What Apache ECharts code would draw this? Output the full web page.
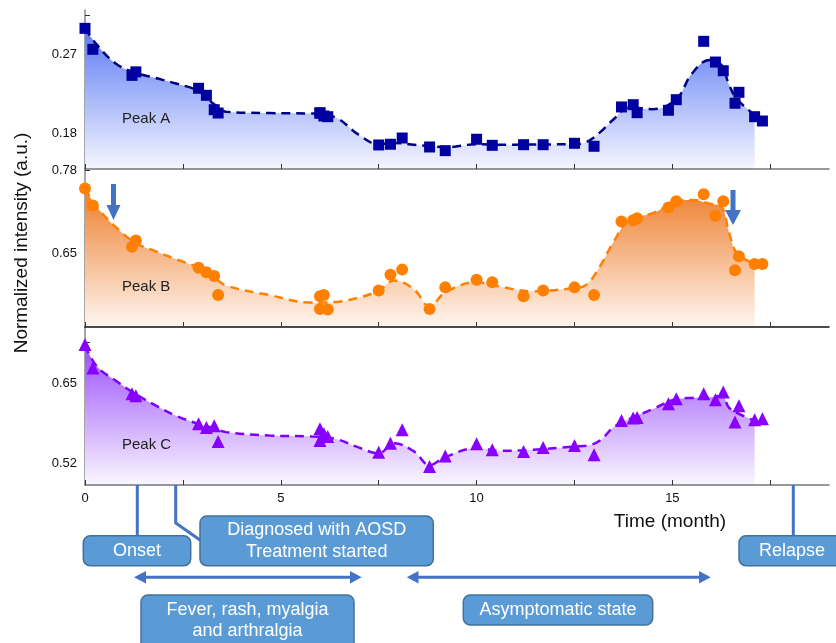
<!DOCTYPE html>
<html>
<head>
<meta charset="utf-8">
<script src="https://cdn.jsdelivr.net/npm/echarts@6/dist/echarts.min.js"></script>
<style>html,body{margin:0;padding:0;background:#fff}#c{width:836px;height:643px}</style>
</head>
<body>
<div id="c"></div>
<script>
// ---- measured points ----
const timeMonths = [0,0.2,1.2,1.3,2.9,3.1,3.3,3.4,6.0,6.0,6.1,6.2,7.5,7.8,8.1,8.8,9.2,10.0,10.4,11.2,11.7,12.5,13.0,13.7,14.0,14.1,14.9,15.1,15.8,16.1,16.3,16.6,16.7,17.1,17.3];
const peakA = [0.2996,0.2757,0.246,0.250,0.2313,0.2233,0.2069,0.2031,0.2028,0.2035,0.1997,0.1989,0.1667,0.1675,0.1746,0.1644,0.1602,0.1732,0.1663,0.1670,0.1670,0.1686,0.1652,0.210,0.2126,0.2035,0.2062,0.2183,0.2848,0.2612,0.2513,0.2142,0.2267,0.1989,0.194];
const peakB = [0.752,0.725,0.660,0.670,0.627,0.620,0.614,0.584,0.582,0.562,0.584,0.561,0.591,0.616,0.624,0.562,0.596,0.608,0.604,0.582,0.591,0.596,0.584,0.700,0.702,0.705,0.722,0.732,0.743,0.709,0.732,0.623,0.645,0.633,0.633];
const peakC = [0.7117,0.6742,0.6328,0.6295,0.5844,0.5784,0.5812,0.5559,0.5764,0.5575,0.5683,0.5640,0.5388,0.5533,0.5747,0.5156,0.5328,0.5522,0.5425,0.5398,0.5462,0.5495,0.5345,0.5897,0.5936,0.5946,0.6166,0.6247,0.6328,0.6231,0.6355,0.5871,0.6134,0.5909,0.5925];

// ---- smoothed trend curves ----
const curveTime = [0,0.3,0.8,1.3,1.8,2.3,2.9,3.3,3.6,4.7,5.8,6.4,7.0,7.5,7.9,8.4,8.8,9.2,10.0,10.6,11.4,12.5,12.8,13.15,13.5,13.9,14.5,15.1,15.5,15.95,16.25,16.45,16.65,17.1];
const fitA = [0.300,0.281,0.259,0.249,0.243,0.237,0.228,0.213,0.2045,0.203,0.2025,0.198,0.178,0.1675,0.169,0.167,0.1655,0.164,0.1675,0.167,0.1672,0.1678,0.170,0.181,0.196,0.2095,0.2075,0.219,0.248,0.2635,0.258,0.235,0.219,0.201];
const fitB = [0.752,0.723,0.690,0.666,0.653,0.641,0.627,0.612,0.599,0.584,0.572,0.573,0.580,0.591,0.607,0.593,0.566,0.588,0.604,0.597,0.590,0.595,0.600,0.629,0.668,0.702,0.713,0.731,0.734,0.728,0.723,0.682,0.650,0.633];
const fitC = [0.711,0.677,0.653,0.632,0.614,0.598,0.584,0.577,0.571,0.5655,0.564,0.560,0.546,0.537,0.553,0.540,0.518,0.531,0.545,0.541,0.5425,0.548,0.549,0.5575,0.579,0.592,0.608,0.624,0.626,0.627,0.6295,0.610,0.602,0.589];

// ---- axes ----
const xTicks = [0,2.5,5,7.5,10,12.5,15,17.5];
const xLabels = [0,5,10,15];
const yTicksA = [0.18,0.225,0.27,0.315], yLabelsA = [0.18,0.27];
const yTicksB = [0.585,0.65,0.715,0.78], yLabelsB = [0.65,0.78];
const yTicksC = [0.52,0.585,0.65,0.715], yLabelsC = [0.52,0.65];
const panelNames = ['Peak A','Peak B','Peak C'];

const FONT = '"Liberation Sans", Arial, sans-serif';
const pairs = (xs, ys) => xs.map((x, i) => [x, ys[i]]);
const chart = echarts.init(document.getElementById('c'), null, {renderer: 'canvas'});

function xAxis(idx, color, showLabels) {
  return {
    type: 'value', gridIndex: idx, min: 0, max: 19, z: 4,
    axisLine: {show: true, lineStyle: {color: color, width: 1.5}},
    axisTick: {show: true, inside: true, length: 5, customValues: xTicks, lineStyle: {color: '#333', width: 1}},
    axisLabel: {show: showLabels, customValues: xLabels, color: '#111', fontSize: 13, fontFamily: FONT, margin: 7},
    splitLine: {show: false}
  };
}
function yAxis(idx, min, max, ticks, labels) {
  return {
    type: 'value', gridIndex: idx, min: min, max: max,
    axisLine: {show: true, lineStyle: {color: '#888', width: 1.5}},
    axisTick: {show: true, inside: true, length: 5, customValues: ticks, lineStyle: {color: '#333', width: 1}},
    axisLabel: {customValues: labels, color: '#111', fontSize: 13, fontFamily: FONT, margin: 8,
      formatter: v => v.toFixed(2)},
    splitLine: {show: false}
  };
}
function grad(top, bottom) {
  return new echarts.graphic.LinearGradient(0, 0, 0, 1, [{offset: 0, color: top}, {offset: 1, color: bottom}]);
}
function curve(idx, data, lineColor, top, bottom) {
  return {
    type: 'line', xAxisIndex: idx, yAxisIndex: idx, data: data, smooth: 0.4,
    showSymbol: false, symbol: 'none', z: 2,
    lineStyle: {color: lineColor, width: 2.5, type: [9, 6]},
    areaStyle: {origin: 'start', color: grad(top, bottom), opacity: 1}
  };
}
function points(idx, data, symbol, size, color) {
  return {type: 'scatter', xAxisIndex: idx, yAxisIndex: idx, data: data, symbol: symbol,
    symbolSize: size, itemStyle: {color: color, opacity: 1}, z: 3};
}

const blue = '#4472C4';
const boxStyle = {fill: '#5B9BD5', stroke: '#41719C', lineWidth: 1.5};
const boxText = (x, y, t, lh) => ({type: 'text', x: x, y: y, z: 20,
  style: {text: t, fill: '#fff', font: '18px ' + FONT, align: 'center', verticalAlign: 'middle', lineHeight: lh || 22}});
const rect = (x, y, w, h) => ({type: 'rect', z: 15, shape: {x: x, y: y, width: w, height: h, r: 7}, style: boxStyle});
const pline = (pts) => ({type: 'polyline', z: 15, shape: {points: pts}, style: {stroke: blue, lineWidth: 3, fill: null}});
const poly = (pts) => ({type: 'polygon', z: 15, shape: {points: pts}, style: {fill: blue}});
const peakLabel = (y, t) => ({type: 'text', x: 122, y: y, z: 20,
  style: {text: t, fill: '#222', font: '15px ' + FONT, align: 'left', verticalAlign: 'middle'}});

chart.setOption({
  animation: false,
  grid: [
    {left: 85, top: 10, width: 744, height: 159},
    {left: 85, top: 169, width: 744, height: 158},
    {left: 85, top: 327, width: 744, height: 158}
  ],
  xAxis: [xAxis(0, '#777', false), xAxis(1, '#111', false), xAxis(2, '#777', true)],
  yAxis: [
    yAxis(0, 0.1393, 0.3205, yTicksA, yLabelsA),
    yAxis(1, 0.5335, 0.7827, yTicksB, yLabelsB),
    yAxis(2, 0.486, 0.740, yTicksC, yLabelsC)
  ],
  series: [
    curve(0, pairs(curveTime, fitA), '#000080', '#5A7AF4', '#F6F6FF'),
    points(0, pairs(timeMonths, peakA), 'rect', 11, '#0000A0'),
    curve(1, pairs(curveTime, fitB), '#FF8000', '#EE7E2C', '#FEF6F0'),
    points(1, pairs(timeMonths, peakB), 'circle', 12, '#FF8000'),
    curve(2, pairs(curveTime, fitC), '#8000FF', '#9A4CFA', '#FAF7FF'),
    points(2, pairs(timeMonths, peakC), 'triangle', 13, '#8800FF')
  ],
  graphic: [
    peakLabel(118.5, panelNames[0]),
    peakLabel(287, panelNames[1]),
    peakLabel(444.5, panelNames[2]),
    {type: 'text', x: 22, y: 243, rotation: Math.PI / 2, z: 20,
      style: {text: 'Normalized intensity (a.u.)', fill: '#111', font: '19px ' + FONT, align: 'center', verticalAlign: 'middle'}},
    {type: 'text', x: 670, y: 522, z: 20,
      style: {text: 'Time (month)', fill: '#111', font: '19px ' + FONT, align: 'center', verticalAlign: 'middle'}},
    // arrows in Peak B panel
    poly([[111, 184], [116, 184], [116, 205], [120.5, 205], [113.5, 220], [106.5, 205], [111, 205]]),
    poly([[730.5, 190], [735.5, 190], [735.5, 210], [741, 210], [733, 225], [725, 210], [730.5, 210]]),
    // timeline connectors
    pline([[137.3, 485], [137.3, 536]]),
    pline([[175.7, 485], [175.7, 523], [200, 540]]),
    pline([[793.3, 485], [793.3, 536]]),
    // period arrows
    pline([[144, 577.3], [352, 577.3]]),
    poly([[134, 577.3], [146, 571], [146, 583.6]]),
    poly([[361.7, 577.3], [350, 571], [350, 583.6]]),
    pline([[416, 577.3], [701, 577.3]]),
    poly([[406.7, 577.3], [418.5, 571], [418.5, 583.6]]),
    poly([[710.7, 577.3], [699, 571], [699, 583.6]]),
    // boxes
    rect(83.3, 535.7, 107.4, 30), boxText(137, 551, 'Onset'),
    rect(200, 516, 233.3, 49.7), boxText(316.7, 541, 'Diagnosed with AOSD\nTreatment started', 22),
    rect(141, 595, 213, 60), boxText(247.5, 620.5, 'Fever, rash, myalgia\nand arthralgia', 21),
    rect(463.3, 595, 189.4, 30), boxText(558, 610, 'Asymptomatic state'),
    rect(739, 535.7, 106, 30), boxText(792, 551, 'Relapse')
  ]
});
</script>
</body>
</html>
